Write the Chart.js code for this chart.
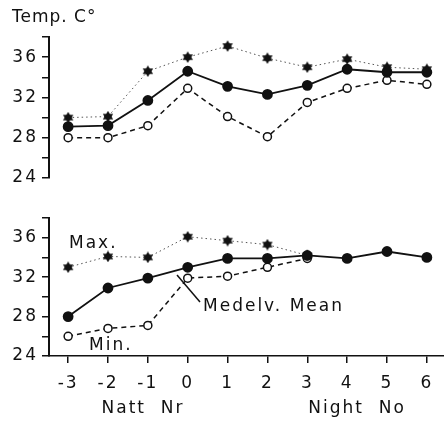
<!DOCTYPE html>
<html>
<head>
<meta charset="utf-8">
<script src="https://cdn.jsdelivr.net/npm/chart.js@4.4.1/dist/chart.umd.min.js"></script>
<style>
  html, body { margin: 0; padding: 0; background: #fff; overflow: hidden; }
  #wrap { position: relative; width: 444px; height: 421px; }
  #topBox { position: absolute; left: 0; top: 0; width: 444px; height: 200px; }
  #botBox { position: absolute; left: 0; top: 200px; width: 444px; height: 221px; }
</style>
</head>
<body>
<div id="wrap">
  <div id="topBox"><canvas id="topChart"></canvas></div>
  <div id="botBox"><canvas id="botChart"></canvas></div>
</div>
<script>
// Night numbers along the x axis
const nights = [-3, -2, -1, 0, 1, 2, 3, 4, 5, 6];
const yLabels = [24, 28, 32, 36];

// Upper panel
const topMax  = [30.0, 30.1, 34.6, 36.0, 37.1, 35.9, 35.0, 35.8, 35.0, 34.8];
const topMean = [29.1, 29.2, 31.7, 34.6, 33.1, 32.3, 33.2, 34.8, 34.5, 34.5];
const topMin  = [28.0, 28.0, 29.2, 32.9, 30.1, 28.1, 31.5, 32.9, 33.7, 33.3];

// Lower panel (max / min only recorded up to night 3)
const botMax  = [33.0, 34.1, 34.0, 36.1, 35.7, 35.3, 34.2, null, null, null];
const botMean = [28.0, 30.9, 31.9, 33.0, 33.9, 33.9, 34.2, 33.9, 34.6, 34.0];
const botMin  = [26.0, 26.8, 27.1, 31.9, 32.1, 33.0, 33.9, null, null, null];

const INK = '#111';
const FONT = '17px "DejaVu Sans"';

Chart.defaults.font.family = 'DejaVu Sans';
Chart.defaults.font.size = 17;
Chart.defaults.color = INK;

// filled six-pointed star used for the max series
function makeStar(size) {
    const c = document.createElement('canvas');
    c.width = c.height = size;
    const g = c.getContext('2d');
    const r = size / 2;
    g.fillStyle = INK;
    [-Math.PI / 2, Math.PI / 2].forEach(rot => {
        g.beginPath();
        for (let k = 0; k < 3; k++) {
            const a = rot + k * 2 * Math.PI / 3;
            const px = r + r * Math.cos(a), py = r + r * 0.95 * Math.sin(a);
            if (k) g.lineTo(px, py); else g.moveTo(px, py);
        }
        g.closePath();
        g.fill();
    });
    return c;
}
const star = makeStar(12);

function toPoints(values) {
    return nights.map((n, i) => ({ x: n, y: values[i] })).filter(p => p.y !== null);
}

function makeDatasets(maxV, meanV, minV) {
    return [
        {
            label: 'Mean', data: toPoints(meanV),
            borderColor: INK, borderWidth: 1.8,
            pointRadius: 4.5, pointBackgroundColor: INK, pointBorderColor: INK
        },
        {
            label: 'Max', data: toPoints(maxV),
            borderColor: '#555', borderWidth: 1, borderDash: [1.5, 3],
            pointStyle: star, pointRadius: 6
        },
        {
            label: 'Min', data: toPoints(minV),
            borderColor: INK, borderWidth: 1.5, borderDash: [5, 4],
            pointRadius: 4, pointBackgroundColor: '#fff', pointBorderColor: INK, pointBorderWidth: 1.5
        }
    ];
}

function yAxis() {
    return {
        min: 24, max: 38,
        afterFit: s => { s.width = 49; },
        border: { display: true, color: INK, width: 2 },
        grid: { drawOnChartArea: false, tickLength: 7, color: INK, lineWidth: 1.5 },
        ticks: {
            stepSize: 2, padding: 4, autoSkip: false,
            callback: v => yLabels.includes(v) ? String(v) : ''
        }
    };
}

// letter spacing for the technical lettering look
const spacing = {
    id: 'spacing',
    beforeDraw(chart) { chart.ctx.letterSpacing = '2px'; }
};

function textPlugin(items, lines) {
    return {
        id: 'texts',
        afterDraw(chart) {
            const ctx = chart.ctx;
            ctx.save();
            ctx.font = FONT;
            ctx.fillStyle = INK;
            ctx.textBaseline = 'middle';
            items.forEach(t => {
                ctx.letterSpacing = (t.spacing === undefined ? 2 : t.spacing) + 'px';
                ctx.textAlign = t.align || 'left';
                ctx.fillText(t.text, t.x, t.y);
            });
            ctx.strokeStyle = INK;
            ctx.lineWidth = 1.5;
            (lines || []).forEach(l => {
                ctx.beginPath();
                ctx.moveTo(l[0], l[1]);
                ctx.lineTo(l[2], l[3]);
                ctx.stroke();
            });
            ctx.restore();
        }
    };
}

const common = {
    responsive: true,
    maintainAspectRatio: false,
    animation: false,
    devicePixelRatio: 1,
    plugins: { legend: { display: false }, tooltip: { enabled: false } }
};

new Chart(document.getElementById('topChart'), {
    type: 'line',
    data: { datasets: makeDatasets(topMax, topMean, topMin) },
    options: Object.assign({}, common, {
        layout: { autoPadding: false, padding: { top: 37, bottom: 22, left: 0, right: 0 } },
        scales: {
            x: { type: 'linear', min: -3.48, max: 6.43, display: false },
            y: yAxis()
        }
    }),
    plugins: [spacing, textPlugin([{ text: 'Temp. C°', x: 12, y: 18, spacing: 1 }])]
});

new Chart(document.getElementById('botChart'), {
    type: 'line',
    data: { datasets: makeDatasets(botMax, botMean, botMin) },
    options: Object.assign({}, common, {
        layout: { autoPadding: false, padding: { top: 18, bottom: 0, left: 0, right: 0 } },
        scales: {
            x: {
                type: 'linear', min: -3.48, max: 6.43,
                afterFit: s => { s.height = 65; },
                border: { display: true, color: INK, width: 1.5 },
                grid: { drawOnChartArea: false, tickLength: 7, color: INK, lineWidth: 1.5 },
                ticks: {
                    stepSize: 1, includeBounds: false, padding: 10,
                    autoSkip: false, maxRotation: 0,
                    callback: v => String(v)
                }
            },
            y: yAxis()
        }
    }),
    plugins: [spacing, textPlugin([
        { text: 'Max.', x: 69, y: 44 },
        { text: 'Min.', x: 89, y: 146 },
        { text: 'Medelv. Mean', x: 203, y: 107 },
        { text: 'Natt  Nr', x: 143, y: 209, align: 'center' },
        { text: 'Night  No', x: 357, y: 209, align: 'center' }
    ], [[177, 75, 200, 102]])]
});
</script>
</body>
</html>
